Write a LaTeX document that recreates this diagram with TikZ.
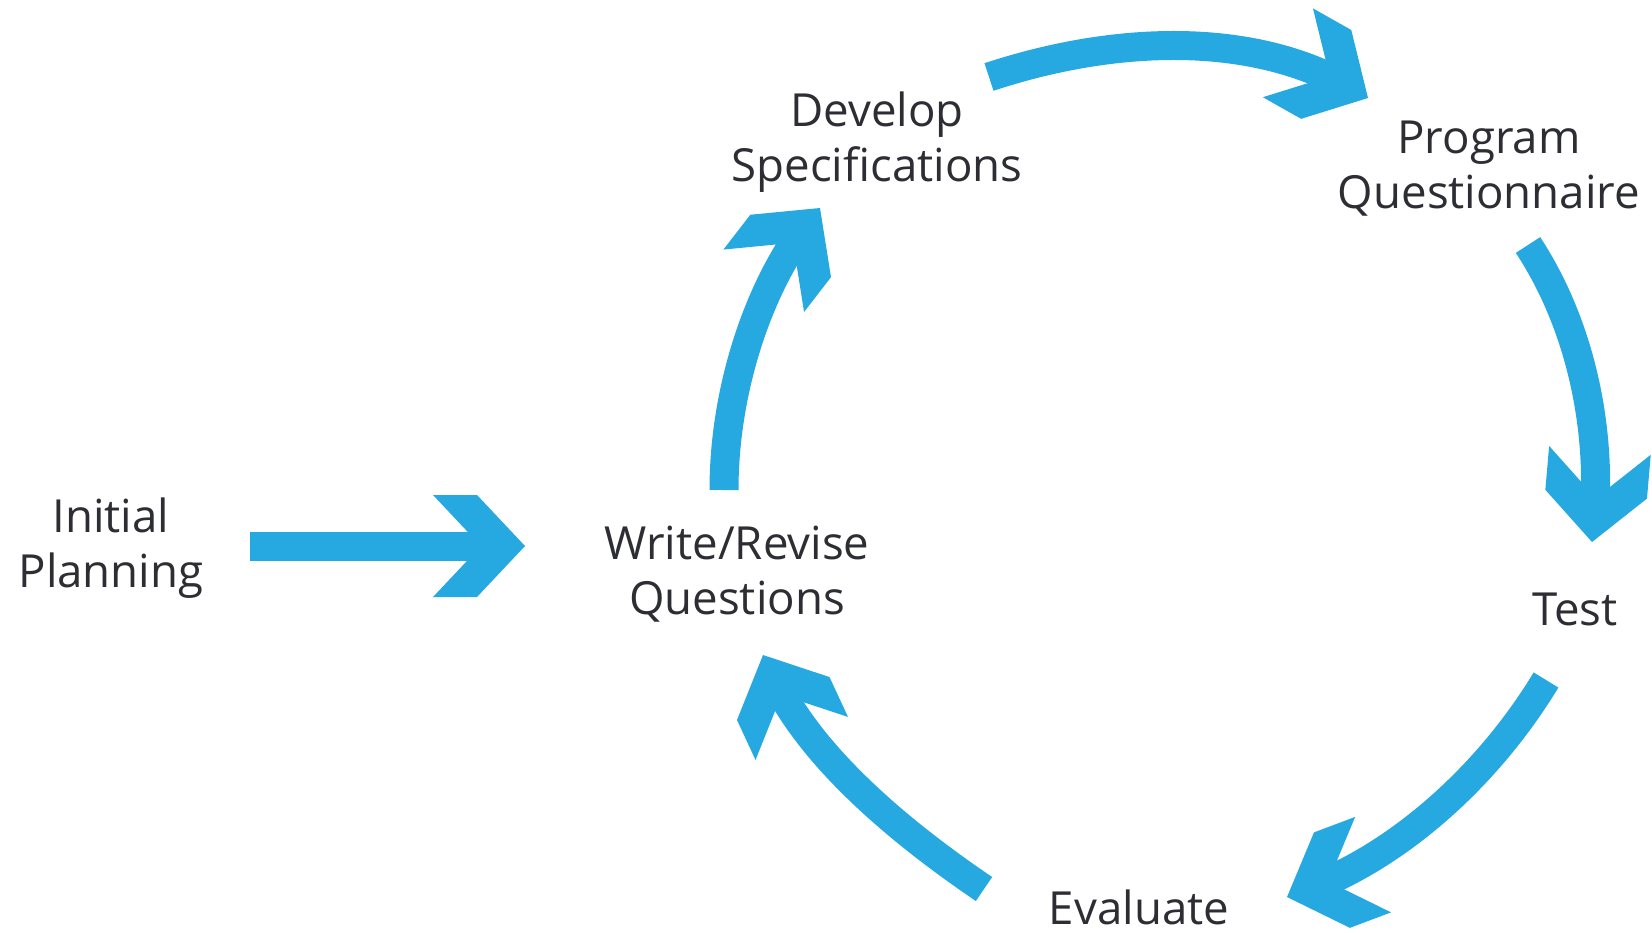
\documentclass[tikz,border=0pt]{standalone}
\usepackage{fontspec}
\setmainfont{Open Sans}
\usetikzlibrary{arrows.meta}
\definecolor{arrowblue}{RGB}{38,168,224}
\definecolor{textgray}{RGB}{45,45,52}
\pgfdeclarearrow{
  name = Chev,
  setup code = {
    \pgfarrowssettipend{0pt}
    \pgfarrowssetlineend{-12pt}
    \pgfarrowssetbackend{-46pt}
    \pgfarrowshullpoint{0pt}{0pt}
    \pgfarrowshullpoint{-46pt}{25.5pt}
    \pgfarrowshullpoint{-46pt}{-25.5pt}
  },
  drawing code = {
    \pgfpathmoveto{\pgfqpoint{0pt}{0pt}}
    \pgfpathlineto{\pgfqpoint{-24pt}{25.5pt}}
    \pgfpathlineto{\pgfqpoint{-46pt}{25.5pt}}
    \pgfpathlineto{\pgfqpoint{-22pt}{0pt}}
    \pgfpathlineto{\pgfqpoint{-46pt}{-25.5pt}}
    \pgfpathlineto{\pgfqpoint{-24pt}{-25.5pt}}
    \pgfpathclose
    \pgfusepathqfill
  }
}
\tikzset{
  label/.style={inner sep=0pt, align=center, text=textgray,
    font=\fontsize{22.8}{27.5}\selectfont},
  flow/.style={color=arrowblue, line width=14.5pt, -{Chev}}
}
\begin{document}
\begin{tikzpicture}[x=0.5pt,y=-0.5pt]
\useasboundingbox (0,0) rectangle (1652,932);
% labels
\node[label] (init) at (111,548.5) {Initial\\Planning};
\node[label] (write) at (737,574.6) {Write/Revise\\Questions};
\node[label] (develop) at (877,142) {Develop\\Specifications};
\node[label] (program) at (1489,168.5) {Program\\Questionnaire};
\node[label] (test) at (1575,609) {Test};
\node[label] (evaluate) at (1139,907) {Evaluate};
% arrow end points
\coordinate (a0s) at (250,546);
\coordinate (a0e) at (525,546);
\coordinate (a1s) at (724,490);
\coordinate (a1e) at (820,208);
\coordinate (a2s) at (989,77);
\coordinate (a2e) at (1368,98);
\coordinate (a3s) at (1528,245);
\coordinate (a3e) at (1592,542);
\coordinate (a4s) at (1546,680);
\coordinate (a4e) at (1287,897);
\coordinate (a5s) at (984,889);
\coordinate (a5e) at (763,655);
% arrows
\draw[flow] (a0s) -- (a0e);
\draw[flow] (a1s) .. controls (724,384) and (762,283) .. (a1e);
\draw[flow] (a2s) .. controls (1116,35) and (1251,32) .. (a2e);
\draw[flow] (a3s) .. controls (1585,332) and (1601,438) .. (a3e);
\draw[flow] (a4s) .. controls (1486,779) and (1396,856) .. (a4e);
\draw[flow] (a5s) .. controls (894,828) and (809,754) .. (a5e);
\end{tikzpicture}
\end{document}
